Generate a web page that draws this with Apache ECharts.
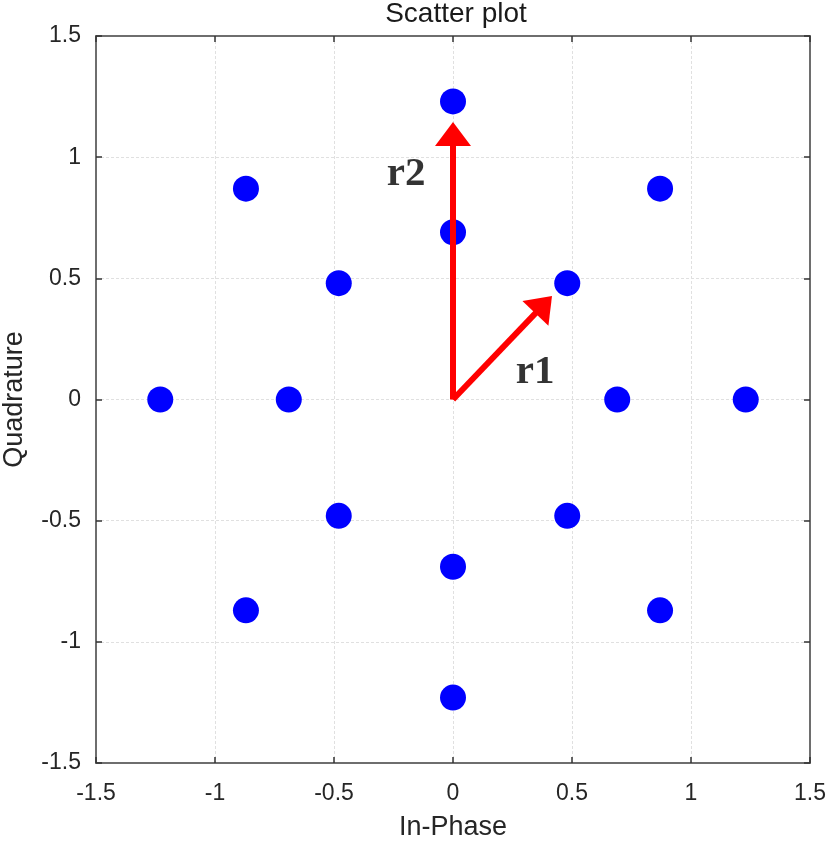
<!DOCTYPE html>
<html><head><meta charset="utf-8">
<script src="https://cdn.jsdelivr.net/npm/echarts@6/dist/echarts.min.js"></script>
<style>html,body{margin:0;padding:0;background:#fff}#c{width:827px;height:844px}</style>
</head><body><div id="c"></div>
<script>
// Data
const xTicks = [-1.5, -1, -0.5, 0, 0.5, 1, 1.5];
const yTicks = [-1.5, -1, -0.5, 0, 0.5, 1, 1.5];
const pointsX = [1.23, 0.87, 0, -0.87, -1.23, -0.87, 0, 0.87, 0.69, 0.48, 0, -0.48, -0.69, -0.48, 0, 0.48];
const pointsY = [0, 0.87, 1.23, 0.87, 0, -0.87, -1.23, -0.87, 0, 0.48, 0.69, 0.48, 0, -0.48, -0.69, -0.48];
const arrowNames = ['r1', 'r2'];
const arrowStart = [[0, 0], [0, 0]];
const arrowEnd = [[0.416, 0.427], [0, 1.145]];
const labelPos = [[0.345, 0.113], [-0.197, 0.927]];

const font = '"Liberation Sans", Arial, sans-serif';
const chart = echarts.init(document.getElementById('c'));
const axisCommon = {
  type: 'value', min: -1.5, max: 1.5, interval: 0.5,
  axisLine: { show: true, onZero: false, lineStyle: { color: '#6e6e6e', width: 2 } },
  axisTick: { show: true, inside: true, length: 6, lineStyle: { color: '#333', width: 1.5 } },
  axisLabel: { color: '#262626', fontSize: 23, fontFamily: font, formatter: v => String(v) },
  splitLine: { show: true, lineStyle: { color: '#e0e0e0', type: [3, 2], width: 1 } }
};
const hidden = {
  type: 'value', min: -1.5, max: 1.5, interval: 0.5,
  axisLine: { show: true, onZero: false, lineStyle: { color: '#6e6e6e', width: 2 } },
  axisTick: { show: true, inside: true, length: 6, lineStyle: { color: '#333', width: 1.5 } },
  axisLabel: { show: false }, splitLine: { show: false }
};
const nameStyle = { fontSize: 27, color: '#262626', fontFamily: font };
chart.setOption({
  animation: false,
  title: { text: 'Scatter plot', left: 451, textAlign: 'center', top: -5,
    textStyle: { fontSize: 28, fontWeight: 'normal', color: '#1a1a1a', fontFamily: font } },
  grid: { left: 96, right: 17, top: 36, bottom: 81, containLabel: false, outerBoundsMode: 'none' },
  xAxis: [
    Object.assign({}, axisCommon, { position: 'bottom', name: 'In-Phase', nameLocation: 'middle', nameGap: 51,
      nameTextStyle: nameStyle,
      axisLabel: Object.assign({}, axisCommon.axisLabel, { margin: 19 }) }),
    Object.assign({}, hidden, { position: 'top' })
  ],
  yAxis: [
    Object.assign({}, axisCommon, { position: 'left', name: 'Quadrature', nameLocation: 'middle', nameGap: 68,
      nameTextStyle: nameStyle,
      axisLabel: Object.assign({}, axisCommon.axisLabel, { margin: 15 }) }),
    Object.assign({}, hidden, { position: 'right' })
  ],
  series: [
    {
      type: 'scatter', symbolSize: 26, z: 2,
      itemStyle: { color: '#0000ff', opacity: 1 },
      data: pointsX.map((x, i) => [x, pointsY[i]])
    },
    {
      type: 'custom', z: 3, clip: false,
      encode: { x: [0, 2], y: [1, 3] },
      data: arrowNames.map((n, i) => [arrowStart[i][0], arrowStart[i][1], arrowEnd[i][0], arrowEnd[i][1]]),
      renderItem: function (params, api) {
        const p0 = api.coord([api.value(0), api.value(1)]);
        const p1 = api.coord([api.value(2), api.value(3)]);
        const dx = p1[0] - p0[0], dy = p1[1] - p0[1];
        const L = Math.sqrt(dx * dx + dy * dy);
        const ux = dx / L, uy = dy / L;
        const headLen = 24, headHalf = 18;
        const bx = p1[0] - ux * headLen, by = p1[1] - uy * headLen;
        const nx = -uy, ny = ux;
        return {
          type: 'group',
          children: [
            { type: 'line', shape: { x1: p0[0], y1: p0[1], x2: bx + ux * 2, y2: by + uy * 2 },
              style: { stroke: '#ff0000', lineWidth: 6, lineCap: 'butt' } },
            { type: 'polygon', shape: { points: [[p1[0], p1[1]], [bx + nx * headHalf, by + ny * headHalf], [bx - nx * headHalf, by - ny * headHalf]] },
              style: { fill: '#ff0000' } }
          ]
        };
      }
    },
    {
      type: 'scatter', symbolSize: 0, z: 4,
      label: { show: true, position: 'inside', formatter: p => p.name,
        fontFamily: '"Liberation Serif", "Times New Roman", serif', fontWeight: 'bold', fontSize: 41, color: '#000' },
      data: arrowNames.map((n, i) => ({ name: n, value: labelPos[i] }))
    }
  ]
});
</script></body></html>
